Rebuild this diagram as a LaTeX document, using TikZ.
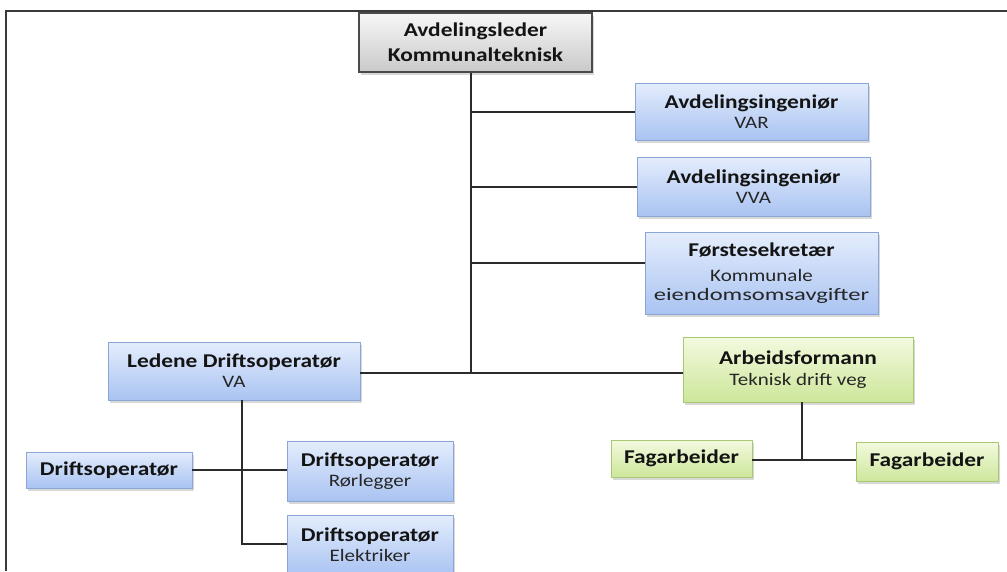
\documentclass[tikz,border=0pt]{standalone}
\usepackage{fontspec}
\setmainfont{Carlito}
\newfontfamily\orgfont[FakeStretch=1.2]{Carlito}
\usetikzlibrary{shadows}
\definecolor{framegray}{HTML}{3A3A3A}
\definecolor{linegray}{HTML}{2B2B2B}
\definecolor{txtdark}{HTML}{141414}
\definecolor{subdark}{HTML}{262626}
\definecolor{bluetop}{HTML}{E4EDFC}
\definecolor{bluebot}{HTML}{A9C3F2}
\definecolor{blueline}{HTML}{8AA6D6}
\definecolor{greentop}{HTML}{F3FADF}
\definecolor{greenbot}{HTML}{CDE69A}
\definecolor{greenline}{HTML}{A9C873}
\definecolor{greytop}{HTML}{F7F7F7}
\definecolor{greybot}{HTML}{C9C9C9}
\definecolor{greyline}{HTML}{4A4A4A}
\newcommand{\ttl}[1]{{\bfseries\fontsize{19.5}{20}\selectfont #1}}
\newcommand{\sbt}[1]{{\color{subdark}\fontsize{17.5}{20}\selectfont #1}}
\tikzset{
  orgbox/.style={rectangle, align=center, inner sep=0pt, text=txtdark,
    font=\orgfont\fontsize{17.5}{20}\selectfont,
    drop shadow={opacity=0.3, shadow xshift=2pt, shadow yshift=-2.5pt}},
  bluebox/.style={orgbox, draw=blueline, line width=0.9pt, top color=bluetop, bottom color=bluebot},
  greenbox/.style={orgbox, draw=greenline, line width=0.9pt, top color=greentop, bottom color=greenbot},
  greybox/.style={orgbox, draw=greyline, line width=1.2pt, top color=greytop, bottom color=greybot},
  conn/.style={draw=linegray, line width=1.2pt},
  frameline/.style={draw=framegray, line width=2pt}
}
\begin{document}
\begin{tikzpicture}[x=1pt,y=-1pt]
\clip (0,0) rectangle (1007,571);
\useasboundingbox (0,0) rectangle (1007,571);
\fill[white] (0,0) rectangle (1007,571);
\draw[frameline] (6,571) -- (6,11) -- (1007,11);

\node[greybox, minimum width=233pt, minimum height=59pt,
  font=\orgfont\bfseries\fontsize{19.5}{25}\selectfont] (top) at (475.5,42.5)
  {Avdelingsleder\\Kommunalteknisk};
\node[bluebox, minimum width=233pt, minimum height=57pt] (var) at (751.5,111.5)
  {\ttl{Avdelingsingeniør}\\\sbt{VAR}};
\node[bluebox, minimum width=233pt, minimum height=59pt] (vva) at (753.5,186.5)
  {\ttl{Avdelingsingeniør}\\\sbt{VVA}};
\node[bluebox, minimum width=233pt, minimum height=82pt] (forste) at (761.5,273.5)
  {\ttl{Førstesekretær}\\[5pt]\sbt{Kommunale}\\[-1pt]\sbt{\scalebox{1.17}[1]{eiendomsomsavgifter}}};
\node[bluebox, minimum width=252pt, minimum height=58pt] (ledene) at (234,371)
  {\ttl{Ledene Driftsoperatør}\\\sbt{VA}};
\node[greenbox, minimum width=230pt, minimum height=65pt] (arb) at (798,369.5)
  {\ttl{Arbeidsformann}\\[1pt]\sbt{Teknisk drift veg}};
\node[bluebox, minimum width=166pt, minimum height=36pt] (drift) at (109,470)
  {\ttl{Driftsoperatør}};
\node[bluebox, minimum width=166pt, minimum height=60pt] (ror) at (370,471)
  {\ttl{Driftsoperatør}\\\sbt{Rørlegger}};
\node[bluebox, minimum width=166pt, minimum height=60pt] (elek) at (370,545)
  {\ttl{Driftsoperatør}\\\sbt{Elektriker}};
\node[greenbox, minimum width=141pt, minimum height=37pt] (fag1) at (681.5,458.5)
  {\ttl{Fagarbeider}};
\node[greenbox, minimum width=142pt, minimum height=39pt] (fag2) at (927,461.5)
  {\ttl{Fagarbeider}};

% junction coordinates
\coordinate (tj) at (471,373);
\coordinate (b1) at (471,112);
\coordinate (b2) at (471,187);
\coordinate (b3) at (471,263);
\coordinate (lj) at (242,544);
\coordinate (aj) at (802,460);

\draw[conn] (top.south -| tj) -- (tj);
\draw[conn] (b1) -- (var.west |- b1);
\draw[conn] (b2) -- (vva.west |- b2);
\draw[conn] (b3) -- (forste.west |- b3);
\draw[conn] (ledene.east |- tj) -- (arb.west |- tj);
\draw[conn] (ledene.south -| lj) -- (lj) -- (elek.west |- lj);
\draw[conn] (drift.east) -- (ror.west |- drift.east);
\draw[conn] (arb.south -| aj) -- (aj);
\draw[conn] (fag1.east |- aj) -- (fag2.west |- aj);
\end{tikzpicture}
\end{document}
